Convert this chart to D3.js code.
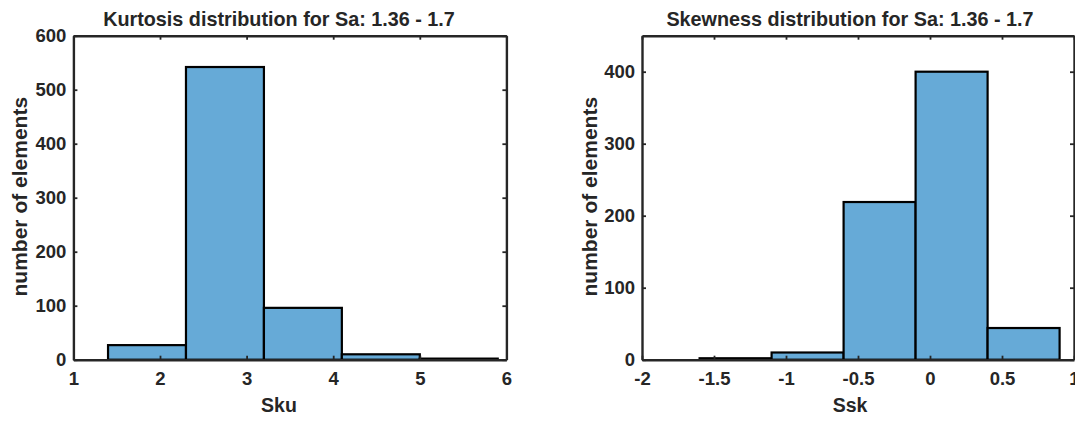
<!DOCTYPE html>
<html>
<head>
<meta charset="utf-8">
<script src="https://cdn.jsdelivr.net/npm/d3@7"></script>
<style>
  html, body { margin: 0; padding: 0; background: #fff; }
  svg { display: block; }
  text { font-family: "Liberation Sans", Arial, Helvetica, sans-serif; font-weight: bold; fill: #262626; }
</style>
</head>
<body>
<svg id="fig" width="1075" height="421"></svg>
<script>
// Kurtosis histogram (Sku)
const skuEdges = [1.4, 2.3, 3.2, 4.1, 5.0, 5.9];
const skuCounts = [27, 542, 96, 10, 2];
const skuXTicks = [1, 2, 3, 4, 5, 6];
const skuYTicks = [0, 100, 200, 300, 400, 500, 600];

// Skewness histogram (Ssk)
const sskEdges = [-1.6, -1.1, -0.6, -0.1, 0.4, 0.9];
const sskCounts = [2, 10, 219, 400, 44];
const sskXTicks = [-2, -1.5, -1, -0.5, 0, 0.5, 1];
const sskYTicks = [0, 100, 200, 300, 400];

const titles = ["Kurtosis distribution for Sa: 1.36 - 1.7", "Skewness distribution for Sa: 1.36 - 1.7"];
const xLabels = ["Sku", "Ssk"];
const yLabel = "number of elements";

const svg = d3.select("#fig");
const axisColor = "#262626";
const barFill = "#66aad7";

function panel(cfg) {
  const { left, right, top, bottom, xDomain, yDomain, edges, counts, xTicks, yTicks, title, xLabel, titleX, yLabelX } = cfg;
  const x = d3.scaleLinear().domain(xDomain).range([left, right]);
  const y = d3.scaleLinear().domain(yDomain).range([bottom, top]);
  const g = svg.append("g");

  // bars
  const bins = counts.map((c, i) => ({ x0: edges[i], x1: edges[i + 1], n: c }));
  g.append("g").selectAll("rect").data(bins).join("rect")
    .attr("x", d => x(d.x0))
    .attr("y", d => y(d.n))
    .attr("width", d => x(d.x1) - x(d.x0))
    .attr("height", d => y(0) - y(d.n))
    .attr("fill", barFill)
    .attr("stroke", "#000")
    .attr("stroke-width", 2.2);

  const fmt = d => String(d);
  const tickLen = 4;

  const styleAxis = sel => {
    sel.selectAll(".domain").attr("stroke", axisColor).attr("stroke-width", 2.4);
    sel.selectAll(".tick line").attr("stroke", axisColor).attr("stroke-width", 1.8);
  };

  // bottom axis with inward ticks
  const ax = g.append("g").attr("transform", `translate(0,${bottom})`)
    .call(d3.axisBottom(x).tickValues(xTicks).tickFormat(fmt).tickSizeInner(-tickLen).tickSizeOuter(0).tickPadding(12));
  ax.selectAll("text").style("font-size", "18.5px").attr("dy", "0.71em");
  styleAxis(ax);

  // top axis (box) with inward ticks
  const axTop = g.append("g").attr("transform", `translate(0,${top})`)
    .call(d3.axisTop(x).tickValues(xTicks).tickFormat("").tickSizeInner(-tickLen).tickSizeOuter(0));
  styleAxis(axTop);

  // left axis
  const ay = g.append("g").attr("transform", `translate(${left},0)`)
    .call(d3.axisLeft(y).tickValues(yTicks).tickFormat(fmt).tickSizeInner(-tickLen).tickSizeOuter(0).tickPadding(7));
  ay.selectAll("text").style("font-size", "18.5px");
  styleAxis(ay);

  // right axis (box)
  const ayR = g.append("g").attr("transform", `translate(${right},0)`)
    .call(d3.axisRight(y).tickValues(yTicks).tickFormat("").tickSizeInner(-tickLen).tickSizeOuter(0));
  styleAxis(ayR);

  // title
  g.append("text").attr("x", titleX).attr("y", 25.5)
    .attr("text-anchor", "middle").style("font-size", "19.8px").text(title);

  // x label
  g.append("text").attr("x", titleX).attr("y", 412)
    .attr("text-anchor", "middle").style("font-size", "19.5px").text(xLabel);

  // y label
  g.append("text")
    .attr("transform", `translate(${yLabelX},${(top + bottom) / 2 - 1}) rotate(-90)`)
    .attr("text-anchor", "middle").style("font-size", "21px").text(yLabel);
}

panel({
  left: 73.4, right: 506.4, top: 35.7, bottom: 359.7,
  xDomain: [1, 6], yDomain: [0, 600],
  edges: skuEdges, counts: skuCounts, xTicks: skuXTicks, yTicks: skuYTicks,
  title: titles[0], xLabel: xLabels[0], titleX: 279, yLabelX: 26.5
});

panel({
  left: 642, right: 1074, top: 35.7, bottom: 359.7,
  xDomain: [-2, 1], yDomain: [0, 450],
  edges: sskEdges, counts: sskCounts, xTicks: sskXTicks, yTicks: sskYTicks,
  title: titles[1], xLabel: xLabels[1], titleX: 850, yLabelX: 596.5
});
</script>
</body>
</html>
